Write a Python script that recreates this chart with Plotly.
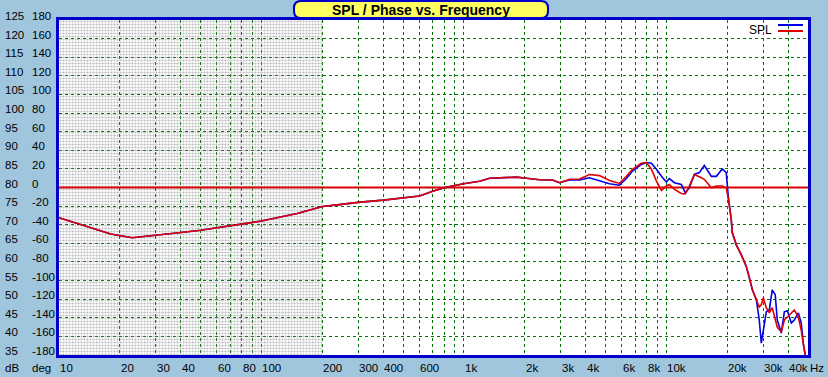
import plotly.graph_objects as go
import math

# ---------------- data ----------------
freq_hz = [10, 14, 18, 23, 30, 40, 50, 78, 100, 150, 200, 243, 300, 400, 500, 604, 700, 793,
           995, 1194, 1337, 1818, 2037, 2361, 2737, 2963, 3321, 3719, 4167, 4669, 5230, 5861,
           6342, 6792, 7518, 7959, 8428, 8920, 9441, 9989, 10330, 10940, 11840, 12390, 12970,
           13730, 14530, 15380, 16660, 17630, 18870, 19740, 20200, 20890, 21130, 22130, 23430,
           24810, 25650, 26560, 27800, 28730, 29400, 30080, 31120, 32210, 33290, 34450, 35250,
           36910, 38210, 39550, 41340, 42790, 44800, 46300, 47360, 48420]

spl_blue = [71.9, 69.3, 67.5, 66.5, 67.1, 67.9, 68.5, 70.0, 71.0, 73.0, 74.9, 75.4, 76.0, 76.6,
            77.1, 77.7, 79.0, 79.9, 81.0, 81.7, 82.5, 82.8, 82.5, 82.1, 82.0, 81.3, 82.0, 82.0,
            82.6, 81.7, 81.0, 80.6, 82.4, 84.4, 86.2, 86.7, 86.5, 84.9, 83.0, 81.5, 82.4, 81.3,
            80.8, 78.6, 79.9, 83.5, 84.0, 85.9, 83.0, 83.0, 85.0, 84.0, 77.5, 71.4, 67.9, 64.6,
            61.9, 58.7, 56.0, 52.5, 49.8, 44.4, 38.2, 41.7, 46.6, 47.1, 52.5, 51.2, 44.4, 40.9,
            46.6, 46.9, 43.6, 44.4, 46.3, 43.6, 38.2, 35.0]

spl_red = [71.9, 69.3, 67.5, 66.5, 67.1, 67.9, 68.5, 70.0, 71.0, 73.0, 74.9, 75.4, 76.0, 76.6,
           77.1, 77.7, 79.0, 79.9, 81.0, 81.7, 82.5, 82.8, 82.5, 82.1, 82.0, 81.3, 82.2, 82.3,
           83.5, 83.2, 81.9, 81.1, 83.0, 84.9, 86.5, 86.7, 84.9, 81.7, 79.2, 80.4, 80.8, 79.5,
           78.4, 78.3, 80.4, 83.5, 82.9, 82.2, 79.9, 80.4, 80.4, 79.9, 77.0, 71.4, 67.9, 64.6,
           61.9, 58.7, 56.0, 52.5, 49.8, 47.9, 48.5, 50.4, 47.7, 46.3, 47.7, 44.4, 42.5, 41.2,
           44.4, 45.2, 46.3, 47.1, 45.2, 41.7, 38.2, 35.0]

db_ticks = [125, 120, 115, 110, 105, 100, 95, 90, 85, 80, 75, 70, 65, 60, 55, 50, 45, 40, 35]
deg_ticks = [180, 160, 140, 120, 100, 80, 60, 40, 20, 0, -20, -40, -60, -80, -100, -120, -140, -160, -180]

x_label_vals = [10, 20, 30, 40, 60, 80, 100, 200, 300, 400, 600, 1000, 2000, 3000, 4000,
                6000, 8000, 10000, 20000, 30000, 40000]
x_label_text = ["10", "20", "30", "40", "60", "80", "100", "200", "300", "400", "600", "1k",
                "2k", "3k", "4k", "6k", "8k", "10k", "20k", "30k", "40k"]

ref_level_db = 80
shade_hz = [10, 200]
x_range_hz = [10, 50000]
y_range_db = [35, 125]

title_text = "SPL / Phase vs. Frequency"
legend_text = "SPL"

# ---------------- styling ----------------
BG = "#A0C6DE"
GRID = "#007800"
BORDER = "#0000C8"
FONT = "Liberation Sans"

grid_x = []
for dec in [10, 100, 1000, 10000]:
    for m in range(1, 10):
        v = dec * m
        if v <= x_range_hz[1]:
            grid_x.append(v)

fig = go.Figure()

# shaded (dotted) low-frequency region
fig.add_trace(go.Scatter(
    x=[shade_hz[0], shade_hz[1], shade_hz[1], shade_hz[0], shade_hz[0]],
    y=[y_range_db[0], y_range_db[0], y_range_db[1], y_range_db[1], y_range_db[0]],
    mode="lines", line=dict(width=0), fill="toself",
    fillcolor="rgba(0,0,0,0)",
    fillpattern=dict(shape=".", fgcolor="#7a7a7a", bgcolor="rgba(0,0,0,0)", size=3, solidity=0.42),
    hoverinfo="skip", showlegend=False))

# reference line
fig.add_trace(go.Scatter(x=x_range_hz, y=[ref_level_db, ref_level_db], mode="lines",
                         line=dict(color="#D80000", width=2), showlegend=False, hoverinfo="skip"))

fig.add_trace(go.Scatter(x=freq_hz, y=spl_blue, mode="lines",
                         line=dict(color="#0000E6", width=1.6), showlegend=False, name="SPL"))
fig.add_trace(go.Scatter(x=freq_hz, y=spl_red, mode="lines",
                         line=dict(color="#E00000", width=1.6), showlegend=False, name="SPL 2"))

L, R, T, B = 59, 20, 20, 22
W, H = 828, 377
pw, ph = W - L - R, H - T - B

fig.update_layout(
    width=W, height=H,
    margin=dict(l=L, r=R, t=T, b=B, pad=0),
    paper_bgcolor=BG, plot_bgcolor="white",
    showlegend=False,
    font=dict(family=FONT, size=11, color="black"),
)

fig.update_xaxes(type="log", range=[math.log10(x_range_hz[0]), math.log10(x_range_hz[1])],
                 tickvals=grid_x, showticklabels=False, ticks="",
                 showgrid=True, gridcolor=GRID, gridwidth=1, griddash="dot",
                 showline=True, linecolor=BORDER, linewidth=3, mirror=True, zeroline=False)
fig.update_yaxes(range=y_range_db, tickvals=db_ticks, showticklabels=False, ticks="",
                 showgrid=True, gridcolor=GRID, gridwidth=1, griddash="dot",
                 showline=True, linecolor=BORDER, linewidth=3, mirror=True, zeroline=False)

ann = []
for d, g in zip(db_ticks, deg_ticks):
    ann.append(dict(x=(3 - L) / pw, xref="paper", y=d, yref="y", text=str(d), showarrow=False,
                    xanchor="left", yanchor="middle", yshift=4, font=dict(size=11.5)))
    ann.append(dict(x=(30 - L) / pw, xref="paper", y=d, yref="y", text=str(g), showarrow=False,
                    xanchor="left", yanchor="middle", yshift=4, font=dict(size=11.5)))
ylab = -(368 - (T + ph)) / ph
ann.append(dict(x=(3 - L) / pw, xref="paper", y=ylab, yref="paper", text="dB", showarrow=False,
                xanchor="left", yanchor="middle", font=dict(size=11.5)))
ann.append(dict(x=(30 - L) / pw, xref="paper", y=ylab, yref="paper", text="deg", showarrow=False,
                xanchor="left", yanchor="middle", font=dict(size=11.5)))
for v, t in zip(x_label_vals, x_label_text):
    ann.append(dict(x=math.log10(v), xref="x", y=ylab, yref="paper", text=t, showarrow=False,
                    xanchor="left", yanchor="middle", xshift=-1, font=dict(size=11.5)))
ann.append(dict(x=(808 - L) / pw, xref="paper", y=ylab, yref="paper", text="Hz", showarrow=False,
                xanchor="left", yanchor="middle", font=dict(size=11.5)))

ann.append(dict(x=(774 - L) / pw, xref="paper", y=1 - (30 - T) / ph, yref="paper", text=legend_text,
                showarrow=False, xanchor="right", yanchor="middle", font=dict(size=12)))

bx0, bx1 = (294 - L) / pw, (548 - L) / pw
by0, by1 = 1 + (T - 18) / ph, 1 + (T - 1) / ph
ann.append(dict(x=(bx0 + bx1) / 2, xref="paper", y=1 + (T - 10) / ph, yref="paper", text=title_text,
                showarrow=False, xanchor="center", yanchor="middle",
                font=dict(size=14, family=FONT, weight="bold", color="black")))
fig.update_layout(annotations=ann)

dx, dy = 7 / pw, 7 / ph
path = (f"M {bx0+dx},{by0} L {bx1-dx},{by0} Q {bx1},{by0} {bx1},{by0+dy} "
        f"L {bx1},{by1-dy} Q {bx1},{by1} {bx1-dx},{by1} L {bx0+dx},{by1} "
        f"Q {bx0},{by1} {bx0},{by1-dy} L {bx0},{by0+dy} Q {bx0},{by0} {bx0+dx},{by0} Z")
shapes = [
    dict(type="path", path=path, xref="paper", yref="paper", fillcolor="#FFFF60",
         line=dict(color=BORDER, width=2), layer="above"),
    dict(type="line", xref="paper", yref="paper", x0=(778 - L) / pw, x1=(803 - L) / pw,
         y0=1 - (25 - T) / ph, y1=1 - (25 - T) / ph, line=dict(color="#0000E6", width=2)),
    dict(type="line", xref="paper", yref="paper", x0=(778 - L) / pw, x1=(803 - L) / pw,
         y0=1 - (31 - T) / ph, y1=1 - (31 - T) / ph, line=dict(color="#E00000", width=2)),
]
fig.update_layout(shapes=shapes)

fig.write_html("out.html", config={"displayModeBar": False},
               post_script="document.body.style.margin='0px';document.body.style.overflow='hidden';")
